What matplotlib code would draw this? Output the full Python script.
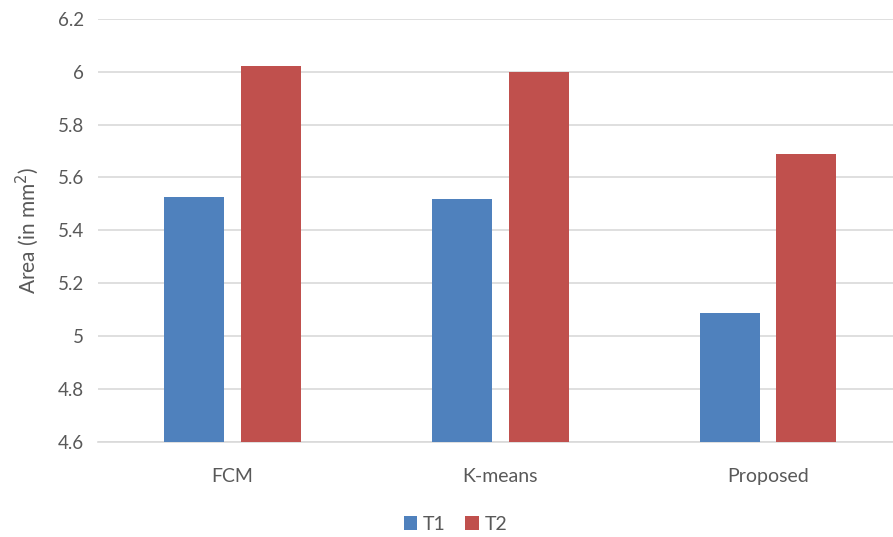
import matplotlib.pyplot as plt
import numpy as np

categories = ['FCM', 'K-means', 'Proposed']
t1 = [5.527, 5.52, 5.086]
t2 = [6.02, 6.0, 5.69]
yticks = [4.6, 4.8, 5.0, 5.2, 5.4, 5.6, 5.8, 6.0, 6.2]
ytick_labels = ['4.6', '4.8', '5', '5.2', '5.4', '5.6', '5.8', '6', '6.2']

plt.rcParams['font.family'] = ['Lato', 'DejaVu Sans']
text_col = '#595959'

fig = plt.figure(figsize=(8.93, 5.37), dpi=100)
ax = fig.add_axes([0.11, 0.177, 0.9, 0.788])

x = np.arange(len(categories))
w = 0.224
gap = 0.063
ax.bar(x - (w + gap) / 2, t1, w, bottom=0, color='#4f81bd', label='T1', zorder=3)
ax.bar(x + (w + gap) / 2, t2, w, bottom=0, color='#c0504d', label='T2', zorder=3)

ax.set_xlim(-0.5, 2.5)
ax.set_ylim(4.6, 6.2)
ax.set_yticks(yticks)
ax.set_yticklabels(ytick_labels)
ax.set_xticks(x)
ax.set_xticklabels(categories)
ax.yaxis.grid(True, color='#d9d9d9', linewidth=1.2, zorder=0)
ax.tick_params(axis='y', length=0, labelsize=13.5, colors=text_col, pad=10)
ax.tick_params(axis='x', length=0, labelsize=14, colors=text_col, pad=19)
for s in ['top', 'right', 'left']:
    ax.spines[s].set_visible(False)
ax.spines['bottom'].set_color('#d9d9d9')
ax.spines['bottom'].set_linewidth(1.2)

ax.set_ylabel('Area (in mm$^2$)', fontsize=15, color=text_col, labelpad=12)

fig.legend(loc='lower center', ncol=2, frameon=False, fontsize=14,
           labelcolor=text_col, handlelength=0.7, handleheight=0.7,
           handletextpad=0.3, columnspacing=1.0, bbox_to_anchor=(0.51, -0.025))

fig.savefig('out.png', dpi=100, facecolor='white')
